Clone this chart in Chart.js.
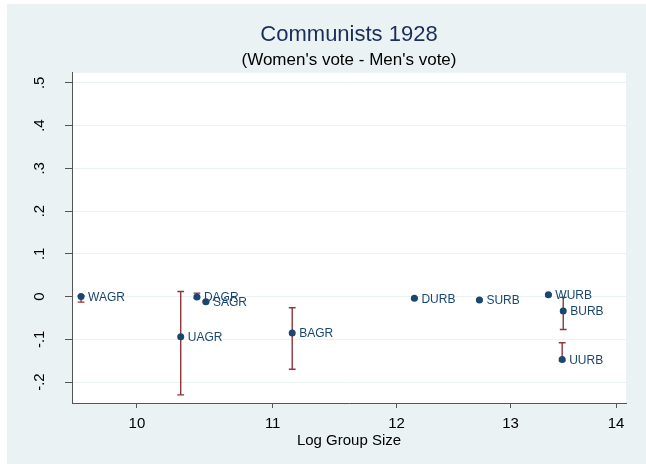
<!DOCTYPE html>
<html>
<head>
<meta charset="utf-8">
<script src="https://cdn.jsdelivr.net/npm/chart.js@4/dist/chart.umd.min.js"></script>
<style>
  html, body { margin: 0; padding: 0; background: #ffffff; }
  #wrap { width: 646px; height: 464px; }
</style>
</head>
<body>
<div id="wrap"><canvas id="c" width="646" height="464"></canvas></div>
<script>
// Groups, their log size, and the women-minus-men vote gap with its interval
const groups   = ['WAGR', 'UAGR', 'DAGR', 'SAGR', 'BAGR', 'DURB', 'SURB', 'WURB', 'BURB', 'UURB'];
const logSize  = [9.615, 10.312, 10.43, 10.496, 11.152, 12.151, 12.719, 13.35, 13.49, 13.48];
const voteDiff = [0.000, -0.094, -0.001, -0.012, -0.085, -0.004, -0.008, 0.004, -0.034, -0.147];
const ciLow    = [-0.013, -0.230, -0.003, -0.014, -0.170, -0.006, -0.010, 0.002, -0.077, -0.150];
const ciHigh   = [0.002, 0.012, 0.008, -0.010, -0.026, -0.002, -0.006, 0.006, -0.002, -0.108];

// Axis ticks
const xTicks = [10, 11, 12, 13, 14];
const yTicks = [-0.2, -0.1, 0, 0.1, 0.2, 0.3, 0.4, 0.5];
const yTickText = ['-.2', '-.1', '0', '.1', '.2', '.3', '.4', '.5'];

const FONT = "'Liberation Sans', Arial, Helvetica, sans-serif";
const NAVY = '#1a476f';
const MAROON = '#90353b';
const BG = '#eaf2f3';

const points = logSize.map((x, i) => ({ x: x, y: voteDiff[i] }));

const backgroundPlugin = {
  id: 'panelBackground',
  beforeDraw(chart) {
    const { ctx, width, height, chartArea } = chart;
    ctx.save();
    ctx.fillStyle = '#ffffff';
    ctx.fillRect(0, 0, width, height);
    ctx.fillStyle = BG;
    ctx.fillRect(7, 4, width - 7, height - 4);
    ctx.fillStyle = '#ffffff';
    ctx.fillRect(chartArea.left, chartArea.top, chartArea.right - chartArea.left, chartArea.bottom - chartArea.top);
    ctx.restore();
  }
};

const errorBarPlugin = {
  id: 'errorBars',
  beforeDatasetsDraw(chart) {
    const { ctx, scales } = chart;
    const xs = scales.x, ys = scales.y;
    const cap = 3.4;
    ctx.save();
    ctx.strokeStyle = MAROON;
    ctx.lineWidth = 1.4;
    for (let i = 0; i < groups.length; i++) {
      const px = xs.getPixelForValue(logSize[i]);
      const pLo = ys.getPixelForValue(ciLow[i]);
      const pHi = ys.getPixelForValue(ciHigh[i]);
      ctx.beginPath();
      ctx.moveTo(px, pLo); ctx.lineTo(px, pHi);
      ctx.moveTo(px - cap, pLo); ctx.lineTo(px + cap, pLo);
      ctx.moveTo(px - cap, pHi); ctx.lineTo(px + cap, pHi);
      ctx.stroke();
    }
    ctx.restore();
  }
};

const pointLabelPlugin = {
  id: 'pointLabels',
  afterDatasetsDraw(chart) {
    const { ctx, scales } = chart;
    ctx.save();
    ctx.fillStyle = NAVY;
    ctx.font = '12px ' + FONT;
    ctx.textAlign = 'left';
    ctx.textBaseline = 'middle';
    for (let i = 0; i < groups.length; i++) {
      const px = scales.x.getPixelForValue(logSize[i]);
      const py = scales.y.getPixelForValue(voteDiff[i]);
      ctx.fillText(groups[i], px + 7, py + 1);
    }
    ctx.restore();
  }
};

new Chart(document.getElementById('c'), {
  type: 'scatter',
  data: {
    datasets: [{
      data: points,
      backgroundColor: NAVY,
      borderColor: NAVY,
      borderWidth: 0,
      pointRadius: 3.5,
      pointHoverRadius: 3.5
    }]
  },
  options: {
    responsive: false,
    animation: false,
    events: [],
    layout: { padding: { top: 0, right: 20, bottom: 0, left: 0 } },
    plugins: {
      legend: { display: false },
      tooltip: { enabled: false },
      title: {
        display: true,
        text: 'Communists 1928',
        fullSize: false,
        color: '#1c2d5a',
        font: { family: FONT, size: 22, weight: 'normal', lineHeight: 1.2 },
        padding: { top: 22, bottom: 2 }
      },
      subtitle: {
        display: true,
        text: "(Women's vote - Men's vote)",
        fullSize: false,
        color: '#000000',
        font: { family: FONT, size: 17, weight: 'normal', lineHeight: 1.2 },
        padding: { top: 0, bottom: 2 }
      }
    },
    scales: {
      x: {
        type: 'logarithmic',
        min: 9.554,
        max: 14.098,
        afterBuildTicks(scale) { scale.ticks = xTicks.map(v => ({ value: v })); },
        afterFit(scale) { scale.height = 61; },
        grid: { drawOnChartArea: false, drawTicks: true, tickLength: 5, tickColor: '#555555', tickWidth: 1 },
        border: { display: true, color: '#555555', width: 1 },
        ticks: {
          color: '#000000',
          font: { family: FONT, size: 15 },
          padding: 7,
          maxRotation: 0,
          minRotation: 0,
          autoSkip: false,
          callback: (v) => String(v)
        },
        title: {
          display: true,
          text: 'Log Group Size',
          color: '#000000',
          font: { family: FONT, size: 15, lineHeight: 1.2 },
          padding: { top: 0, bottom: 14 }
        }
      },
      y: {
        type: 'linear',
        min: -0.249,
        max: 0.5235,
        afterBuildTicks(scale) { scale.ticks = yTicks.map(v => ({ value: v })); },
        afterFit(scale) { scale.width = 72; },
        grid: { color: BG, lineWidth: 1, drawTicks: true, tickLength: 7, tickColor: '#555555', tickWidth: 1 },
        border: { display: true, color: '#555555', width: 1 },
        ticks: {
          color: '#000000',
          font: { family: FONT, size: 15 },
          padding: 16,
          minRotation: 90,
          maxRotation: 90,
          crossAlign: 'center',
          autoSkip: false,
          callback: (v) => {
            const k = yTicks.findIndex(t => Math.abs(t - v) < 1e-9);
            return k >= 0 ? yTickText[k] : '';
          }
        }
      }
    }
  },
  plugins: [backgroundPlugin, errorBarPlugin, pointLabelPlugin]
});
</script>
</body>
</html>
